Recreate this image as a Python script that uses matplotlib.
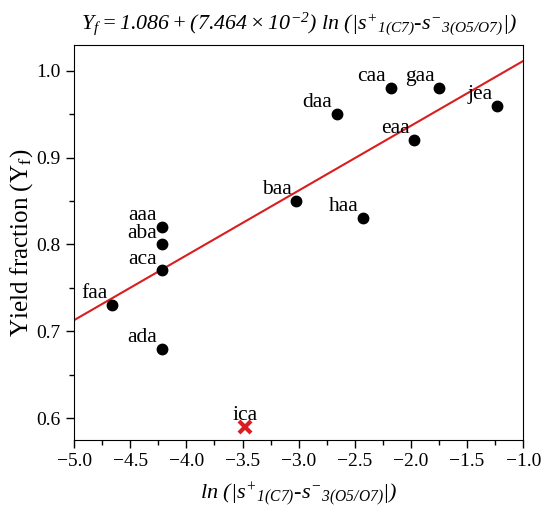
import matplotlib.pyplot as plt
import numpy as np

plt.rcParams["font.family"] = ["Liberation Serif", "DejaVu Serif"]
plt.rcParams["mathtext.fontset"] = "custom"
plt.rcParams["mathtext.rm"] = "Liberation Serif:italic"
plt.rcParams["mathtext.it"] = "Liberation Serif:italic"

# data
names = ["aaa", "aba", "aca", "ada", "faa", "baa", "haa", "daa", "caa", "gaa", "eaa", "jea"]
x_vals = [-4.22, -4.22, -4.22, -4.22, -4.66, -3.02, -2.43, -2.66, -2.18, -1.75, -1.97, -1.23]
y_vals = [0.82, 0.80, 0.77, 0.68, 0.73, 0.85, 0.83, 0.95, 0.98, 0.98, 0.92, 0.96]
out_name = "ica"
out_x, out_y = -3.48, 0.59

intercept = 1.086
slope = 7.464e-2

fig = plt.figure(figsize=(5.45, 5.09), dpi=100)
ax = fig.add_axes([0.136, 0.136, 0.824, 0.776])

xl = np.array([-5.0, -1.0])
ax.plot(xl, intercept + slope * xl, color="#d81e1e", lw=1.5, zorder=1)
ax.plot(x_vals, y_vals, "o", color="black", ms=7.5, zorder=2)
ax.plot(out_x, out_y, "x", color="#d81e1e", ms=9, mew=3, zorder=2)

for n, x, y in zip(names, x_vals, y_vals):
    ax.text(x - 0.04, y + 0.008, n, ha="right", va="baseline", fontsize=15.5)
ax.text(out_x, out_y + 0.008, out_name, ha="center", va="baseline", fontsize=15.5)

ax.set_xlim(-5.0, -1.0)
ax.set_ylim(0.575, 1.03)
ax.set_xticks(np.arange(-5.0, -0.99, 0.5))
ax.set_xticks(np.arange(-5.0, -0.99, 0.25), minor=True)
ax.set_yticks([0.6, 0.7, 0.8, 0.9, 1.0])
ax.set_yticks(np.arange(0.6, 1.03, 0.05), minor=True)
ax.xaxis.set_major_formatter(plt.FuncFormatter(lambda v, p: f"{v:.1f}".replace("-", "\u2212")))
ax.yaxis.set_major_formatter(plt.FuncFormatter(lambda v, p: f"{v:.1f}"))
ax.tick_params(which="major", length=6, width=1, labelsize=14)
ax.tick_params(which="minor", length=3.5, width=1)

label = r"$ln\ (|s^{+}{}_{1(C7)}$-$s^{-}{}_{3(O5/O7)}|)$"
ax.set_xlabel(label, fontsize=16, labelpad=7)
ax.set_ylabel("Yield fraction (Y$_\\mathrm{f}$)", fontsize=18, math_fontfamily="stix", labelpad=1)
ax.set_title(r"$Y_f = 1.086 + (7.464 \times 10^{-2})\ ln\ (|s^{+}{}_{1(C7)}$-$s^{-}{}_{3(O5/O7)}|)$",
             fontsize=15.8, pad=11)

fig.savefig("out.png", dpi=100)
